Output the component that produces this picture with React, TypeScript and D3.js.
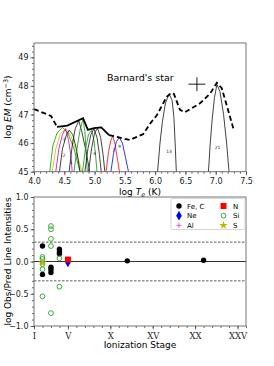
import { useEffect, useRef } from "react";
import * as d3 from "d3";

type Pt = [number, number];

// top panel: emission measure distribution (log T, log EM)
const demLow: Pt[] = [[4.0, 47.19], [4.28, 46.95], [4.38, 46.57]];
const demMid: Pt[] = [[4.38, 46.57], [4.55, 46.61], [4.81, 46.87], [4.89, 46.46], [4.99, 46.52], [5.11, 46.55], [5.24, 46.28]];
const demHigh: Pt[] = [
  [5.24, 46.28], [5.58, 46.11], [5.8, 46.31], [5.92, 46.69], [6.03, 46.98], [6.19, 47.62], [6.27, 47.76],
  [6.31, 47.72], [6.41, 47.16], [6.49, 47.08], [6.74, 47.39], [6.91, 47.74], [7.02, 48.11], [7.1, 47.92], [7.29, 46.52],
];

// contribution functions (log T, log EM)
const siA: Pt[] = [[4.26, 45], [4.31, 45.9], [4.38, 46.35], [4.47, 46.55], [4.56, 46.35], [4.66, 45.8], [4.76, 45]];
const sII: Pt[] = [[4.3, 45], [4.36, 45.8], [4.43, 46.3], [4.52, 46.52], [4.61, 46.25], [4.7, 45.7], [4.79, 45]];
const alII: Pt[] = [[4.36, 45], [4.41, 45.8], [4.47, 46.3], [4.52, 46.5], [4.57, 46.1], [4.61, 45.55], [4.63, 45]];
const cII: Pt[] = [[4.42, 45], [4.47, 45.8], [4.53, 46.25], [4.58, 46.45], [4.64, 46.3], [4.7, 45.8], [4.76, 45]];
const cIII: Pt[] = [[4.58, 45], [4.63, 45.9], [4.68, 46.5], [4.74, 46.78], [4.79, 46.4], [4.86, 45.7], [4.92, 45]];
const siB: Pt[] = [[4.66, 45], [4.71, 45.8], [4.76, 46.45], [4.81, 46.85], [4.84, 46.4], [4.86, 45.7], [4.88, 45]];
const siC: Pt[] = [[4.8, 45], [4.85, 45.8], [4.9, 46.3], [4.95, 46.45], [4.99, 46.1], [5.02, 45.5], [5.04, 45]];
const cIV: Pt[] = [[4.84, 45], [4.89, 45.8], [4.94, 46.3], [4.99, 46.5], [5.04, 46.2], [5.08, 45.6], [5.11, 45]];
const feA: Pt[] = [[4.9, 45], [4.95, 45.8], [5.0, 46.35], [5.05, 46.52], [5.1, 46.2], [5.14, 45.6], [5.17, 45]];
const nV: Pt[] = [[5.19, 45], [5.23, 45.7], [5.27, 46.1], [5.3, 46.25], [5.34, 45.95], [5.38, 45.4], [5.41, 45]];
const neV: Pt[] = [[5.27, 45], [5.31, 45.6], [5.36, 46.05], [5.41, 46.2], [5.46, 46.0], [5.51, 45.5], [5.56, 45]];
const fe13: Pt[] = [[6.04, 45], [6.08, 46.0], [6.12, 46.75], [6.17, 47.4], [6.23, 47.72], [6.28, 47.5], [6.31, 46.9], [6.33, 46.0], [6.35, 45]];
const fe21: Pt[] = [[6.88, 45], [6.91, 46.0], [6.94, 46.8], [6.98, 47.6], [7.02, 48.05], [7.07, 47.8], [7.13, 47.0], [7.18, 46.0], [7.22, 45]];

const curves: { pts: Pt[]; color: string }[] = [
  { pts: siA, color: "#109010" },
  { pts: sII, color: "#c8c000" },
  { pts: alII, color: "#c000c0" },
  { pts: cII, color: "#111" },
  { pts: cIII, color: "#111" },
  { pts: siB, color: "#109010" },
  { pts: siC, color: "#109010" },
  { pts: cIV, color: "#111" },
  { pts: feA, color: "#111" },
  { pts: nV, color: "#ff0000" },
  { pts: neV, color: "#0000ff" },
  { pts: fe13, color: "#111" },
  { pts: fe21, color: "#111" },
];

const curveLabels: [number, number, string][] = [
  [4.5, 46.08, "1"], [4.495, 45.52, "2"], [4.61, 45.26, "3"], [5.0, 45.6, "4"],
  [5.31, 45.68, "7"], [5.41, 45.82, "9"], [6.23, 45.65, "13"], [7.03, 45.78, "21"],
];

const starPoint: Pt = [6.69, 48.06];
const starErr: Pt = [0.14, 0.24];

// bottom panel: [ionization stage, log obs/pred]
const feC: Pt[] = [[2, 0.24], [2, -0.2], [3, -0.09], [3, -0.125], [3, -0.17], [4, 0.19], [4, 0.15], [4, 0.12], [12, 0.01], [21, 0.02]];
const si: Pt[] = [[2, 0.07], [2, 0.04], [2, -0.04], [2, -0.12], [2, -0.54], [3, 0.55], [3, 0.5], [3, 0.35], [3, 0.24], [3, -0.8], [4, 0.05], [4, -0.39]];
const sulfur: Pt[] = [[2, -0.02]];
const nitrogen: Pt[] = [[5, 0.03]];
const neon: Pt[] = [[5, -0.02]];
const aluminium: Pt[] = [[5, -0.03]];

const romanTicks = [1, 5, 10, 15, 20, 25];
const romanLabels = ["I", "V", "X", "XV", "XX", "XXV"];

const App = () => {
  const svgRef = useRef<SVGSVGElement | null>(null);

  useEffect(() => {
    const svg = d3.select(svgRef.current);
    svg.selectAll("*").remove();

    const L = 34, R = 246;
    const x = d3.scaleLinear().domain([4, 7.5]).range([L, R]);
    const y = d3.scaleLinear().domain([45, 49.5]).range([171.7, 43]);
    const xs = d3.scaleLinear().domain([1, 26]).range([L, R]);
    const yr = d3.scaleLinear().domain([-1, 1]).range([326, 197]);

    const font = "DejaVu Sans, sans-serif";
    const axisColor = "#444";

    const styleAxis = (g: any) => {
      g.select(".domain").remove();
      g.selectAll("line").attr("stroke", axisColor).attr("stroke-width", 0.8);
      g.selectAll("text").attr("fill", "#222").style("font-family", font).style("font-size", "8px");
    };

    // ---- top panel ----
    const top = svg.append("g");
    top.append("g").attr("transform", "translate(0,171.7)")
      .call(d3.axisBottom(x).tickValues(d3.range(4, 7.51, 0.1)).tickSize(2).tickFormat(() => ""))
      .call(styleAxis);
    top.append("g").attr("transform", "translate(0,171.7)")
      .call(d3.axisBottom(x).tickValues(d3.range(4, 7.51, 0.5)).tickSize(3.5).tickPadding(3.5).tickFormat(d3.format(".1f")))
      .call(styleAxis);
    top.append("g").attr("transform", `translate(${L},0)`)
      .call(d3.axisLeft(y).tickValues(d3.range(45, 49.5, 0.2)).tickSize(2).tickFormat(() => ""))
      .call(styleAxis);
    top.append("g").attr("transform", `translate(${L},0)`)
      .call(d3.axisLeft(y).tickValues([45, 46, 47, 48, 49]).tickSize(3.5).tickPadding(2).tickFormat(d3.format("d")))
      .call(styleAxis);

    const line = d3.line<Pt>().x((d) => x(d[0])).y((d) => y(d[1]));

    const cg = top.append("g");
    curves.forEach((c) => {
      cg.append("path").attr("d", line(c.pts)).attr("fill", "none")
        .attr("stroke", c.color).attr("stroke-width", 0.8);
    });
    cg.selectAll("text").data(curveLabels).enter().append("text")
      .attr("x", (d) => x(d[0])).attr("y", (d) => y(d[1]))
      .attr("text-anchor", "middle").style("font-family", font).style("font-size", "4.5px")
      .attr("fill", "#222").text((d) => d[2]);

    top.append("path").attr("d", line(demLow)).attr("fill", "none").attr("stroke", "#000")
      .attr("stroke-width", 1.8).attr("stroke-dasharray", "5,3");
    top.append("path").attr("d", line(demMid)).attr("fill", "none").attr("stroke", "#000")
      .attr("stroke-width", 1.8);
    top.append("path").attr("d", line(demHigh)).attr("fill", "none").attr("stroke", "#000")
      .attr("stroke-width", 1.8).attr("stroke-dasharray", "5,3");

    // error cross
    top.append("line").attr("x1", x(starPoint[0] - starErr[0])).attr("x2", x(starPoint[0] + starErr[0]))
      .attr("y1", y(starPoint[1])).attr("y2", y(starPoint[1])).attr("stroke", "#000").attr("stroke-width", 0.9);
    top.append("line").attr("x1", x(starPoint[0])).attr("x2", x(starPoint[0]))
      .attr("y1", y(starPoint[1] - starErr[1])).attr("y2", y(starPoint[1] + starErr[1])).attr("stroke", "#000").attr("stroke-width", 0.9);

    top.append("text").attr("x", 107).attr("y", 81).style("font-family", font).style("font-size", "9.5px")
      .attr("fill", "#000").text("Barnard's star");

    top.append("rect").attr("x", L).attr("y", 43).attr("width", R - L).attr("height", 171.7 - 43)
      .attr("fill", "none").attr("stroke", "#666").attr("stroke-width", 0.9);

    const xl = top.append("text").attr("x", 140).attr("y", 195).attr("text-anchor", "middle")
      .style("font-family", font).style("font-size", "9px").attr("fill", "#000");
    xl.append("tspan").text("log ");
    xl.append("tspan").attr("font-style", "italic").text("T");
    xl.append("tspan").attr("font-style", "italic").attr("font-size", "6.5px").attr("dy", 2).text("e");
    xl.append("tspan").attr("dy", -2).text(" (K)");

    const yl = top.append("text").attr("transform", "translate(11,107) rotate(-90)").attr("text-anchor", "middle")
      .style("font-family", font).style("font-size", "9px").attr("fill", "#000");
    yl.append("tspan").text("log ");
    yl.append("tspan").attr("font-style", "italic").text("EM");
    yl.append("tspan").text(" (cm");
    yl.append("tspan").attr("font-size", "6.5px").attr("dy", -3).text("\u22123");
    yl.append("tspan").attr("dy", 3).text(")");

    // ---- bottom panel ----
    const bot = svg.append("g");
    bot.append("g").attr("transform", "translate(0,326)")
      .call(d3.axisBottom(xs).tickValues(d3.range(1, 27, 1)).tickSize(2).tickFormat(() => ""))
      .call(styleAxis);
    const xa = bot.append("g").attr("transform", "translate(0,326)")
      .call(d3.axisBottom(xs).tickValues(romanTicks).tickSize(3.5).tickPadding(3).tickFormat((_d, i) => romanLabels[i]))
      .call(styleAxis);
    xa.selectAll("text").style("font-family", "DejaVu Serif, serif").style("font-size", "8.5px");
    bot.append("g").attr("transform", `translate(${L},0)`)
      .call(d3.axisLeft(yr).tickValues(d3.range(-1, 1.001, 0.1)).tickSize(2).tickFormat(() => ""))
      .call(styleAxis);
    bot.append("g").attr("transform", `translate(${L},0)`)
      .call(d3.axisLeft(yr).tickValues([-1, -0.5, 0, 0.5, 1]).tickSize(3.5).tickPadding(2).tickFormat(d3.format(".1f")))
      .call(styleAxis);

    bot.append("line").attr("x1", L).attr("x2", R).attr("y1", yr(0)).attr("y2", yr(0))
      .attr("stroke", "#333").attr("stroke-width", 1.1);
    [0.3, -0.3].forEach((v) => {
      bot.append("line").attr("x1", L).attr("x2", R).attr("y1", yr(v)).attr("y2", yr(v))
        .attr("stroke", "#333").attr("stroke-width", 0.8).attr("stroke-dasharray", "2.5,1.5");
    });

    const px = (d: Pt) => xs(d[0]);
    const py = (d: Pt) => yr(d[1]);

    bot.selectAll(".fe").data(feC).enter().append("circle")
      .attr("cx", px).attr("cy", py).attr("r", 2.7).attr("fill", "#000");
    bot.selectAll(".si").data(si).enter().append("circle")
      .attr("cx", px).attr("cy", py).attr("r", 2.4).attr("fill", "none").attr("stroke", "#22a022").attr("stroke-width", 0.9);
    bot.selectAll(".s").data(sulfur).enter().append("path")
      .attr("transform", (d) => `translate(${px(d)},${py(d)})`)
      .attr("d", d3.symbol().type(d3.symbolStar).size(22)()).attr("fill", "#b8b800");
    bot.selectAll(".al").data(aluminium).enter().append("path")
      .attr("transform", (d) => `translate(${px(d)},${py(d)})`)
      .attr("d", "M-2.5,0H2.5M0,-2.5V2.5").attr("stroke", "#d040d0").attr("stroke-width", 0.8);
    bot.selectAll(".ne").data(neon).enter().append("path")
      .attr("transform", (d) => `translate(${px(d)},${py(d)})`)
      .attr("d", d3.symbol().type(d3.symbolDiamond).size(22)()).attr("fill", "#0000ff");
    bot.selectAll(".n").data(nitrogen).enter().append("rect")
      .attr("x", (d) => px(d) - 3).attr("y", (d) => py(d) - 3).attr("width", 6).attr("height", 6).attr("fill", "#ff0000");

    bot.append("rect").attr("x", L).attr("y", 197).attr("width", R - L).attr("height", 326 - 197)
      .attr("fill", "none").attr("stroke", "#666").attr("stroke-width", 0.9);

    // legend
    const lg = bot.append("g");
    lg.append("rect").attr("x", 171).attr("y", 198.5).attr("width", 74).attr("height", 31)
      .attr("fill", "#fff").attr("stroke", "#ccc").attr("stroke-width", 0.8).attr("rx", 1.5);
    const rows = [206, 215.7, 225.4];
    const addText = (tx: number, ty: number, t: string) =>
      lg.append("text").attr("x", tx).attr("y", ty + 2.5).style("font-family", font).style("font-size", "7px").attr("fill", "#000").text(t);
    lg.append("circle").attr("cx", 179).attr("cy", rows[0]).attr("r", 2.7).attr("fill", "#000");
    addText(187, rows[0], "Fe, C");
    lg.append("path").attr("transform", `translate(179,${rows[1]})`)
      .attr("d", d3.symbol().type(d3.symbolDiamond).size(28)()).attr("fill", "#0000ff");
    addText(187, rows[1], "Ne");
    lg.append("path").attr("transform", `translate(179,${rows[2]})`)
      .attr("d", "M-2.5,0H2.5M0,-2.5V2.5").attr("stroke", "#d040d0").attr("stroke-width", 0.8);
    addText(187, rows[2], "Al");
    lg.append("rect").attr("x", 220.5).attr("y", rows[0] - 3).attr("width", 6).attr("height", 6).attr("fill", "#ff0000");
    addText(233, rows[0], "N");
    lg.append("circle").attr("cx", 223.5).attr("cy", rows[1]).attr("r", 2.4).attr("fill", "none")
      .attr("stroke", "#22a022").attr("stroke-width", 0.9);
    addText(233, rows[1], "Si");
    lg.append("path").attr("transform", `translate(223.5,${rows[2]})`)
      .attr("d", d3.symbol().type(d3.symbolStar).size(22)()).attr("fill", "#b8b800");
    addText(233, rows[2], "S");

    bot.append("text").attr("x", 140).attr("y", 348).attr("text-anchor", "middle")
      .style("font-family", font).style("font-size", "9px").attr("fill", "#000").text("Ionization Stage");
    bot.append("text").attr("transform", "translate(11,261.5) rotate(-90)").attr("text-anchor", "middle")
      .style("font-family", font).style("font-size", "9px").attr("fill", "#000").text("log Obs/Pred Line Intensities");
  }, []);

  return (
    <svg
      ref={svgRef}
      width={274}
      height={366}
      style={{ position: "absolute", left: 0, top: 0, background: "#fff" }}
    />
  );
};

export default App;
